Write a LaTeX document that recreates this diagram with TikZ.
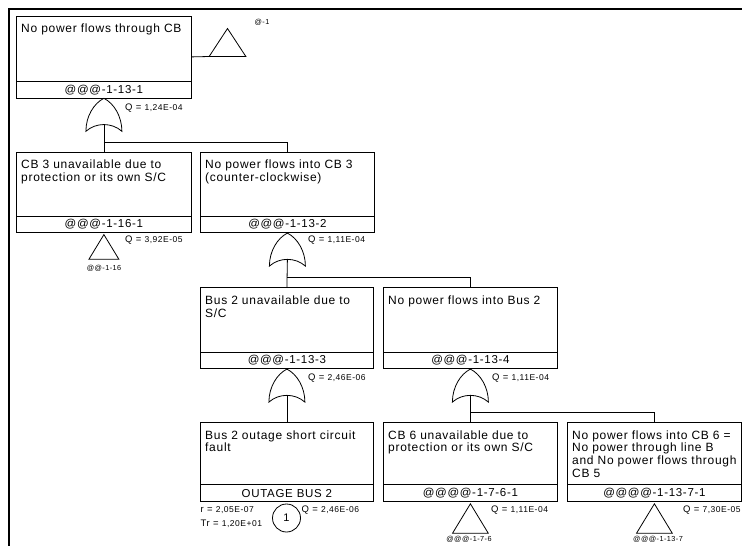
\documentclass[tikz,border=0pt]{standalone}
\usepackage{fontspec}
\setmainfont{Liberation Sans}[LetterSpace=6]
\usetikzlibrary{calc}
\newcommand\qv[2]{{\fontsize{9.5}{10}\selectfont #1 = }#2}
\newcommand\ftbox[7]{%
  \node[evbox, minimum width=#4pt, minimum height=#5pt] (#1) at (#2,#3) {};
  \draw[conn] ([yshift=17pt]#1.south west) -- ([yshift=17pt]#1.south east);
  \node[evtext] (#1-t) at ([xshift=5pt,yshift=-17pt]#1.north west) {#6};
  \node[idtext] (#1-id) at ([yshift=8.5pt]#1.south) {#7};
}
\tikzset{
  evbox/.style={draw, line width=0.8pt, inner sep=0pt, anchor=north west},
  evtext/.style={anchor=base west, inner sep=0pt, align=left, text width=168pt,
    font=\fontsize{12}{12.8}\selectfont},
  idtext/.style={inner sep=0pt, font=\fontsize{11.5}{13}\selectfont},
  qlbl/.style={anchor=base west, inner sep=0pt, font=\fontsize{8.5}{9}\selectfont},
  xlbl/.style={inner sep=0pt, font=\fontsize{7.3}{8}\selectfont},
  conn/.style={line width=0.8pt},
  frame/.style={line width=2pt},
  basic/.style={draw, circle, line width=0.8pt, minimum size=28pt, inner sep=0pt,
    font=\fontsize{11}{12}\selectfont},
  orgate/.pic={\draw[conn] (-18,33) .. controls (-18,18) and (-10,5) .. (0,0)
      .. controls (10,5) and (18,18) .. (18,33)
      .. controls (8,24) and (-8,24) .. cycle;
    \coordinate (-out) at (0,26.25);},
  xfer/.pic={\draw[conn] (0,0) -- (17,28) -- (-17,28) -- cycle;
    \coordinate (-bl) at (-17,28);}
}
\begin{document}
\begin{tikzpicture}[x=1pt,y=-1pt]
\useasboundingbox (0,0) rectangle (742,546);
\draw[frame] (742,9) -- (9,9) -- (9,546);

% events
\ftbox{E1}{16}{15.5}{175}{82}{No power flows through CB}{@@@-1-13-1}
\ftbox{E2}{16}{151.7}{175}{80.6}{CB 3 unavailable due to\\protection or its own S/C}{@@@-1-16-1}
\ftbox{E3}{200}{151.7}{174}{80.6}{No power flows into CB 3\\(counter-clockwise)}{@@@-1-13-2}
\ftbox{E4}{200}{287.3}{173}{81}{Bus 2 unavailable due to\\S/C}{@@@-1-13-3}
\ftbox{E5}{383}{287.3}{174}{81}{No power flows into Bus 2}{@@@-1-13-4}
\ftbox{E6}{200}{422}{173}{79}{Bus 2 outage short circuit\\fault}{OUTAGE BUS 2}
\ftbox{E7}{383}{422}{174}{79}{CB 6 unavailable due to\\protection or its own S/C}{@@@@-1-7-6-1}
\ftbox{E8}{567}{422}{174}{79}{No power flows into CB 6 =\\No power through line B\\and No power flows through\\CB 5}{@@@@-1-13-7-1}

% gates
\pic (g1) at (E1.south) {orgate};
\pic (g2) at (E3.south) {orgate};
\pic (g3) at (E4.south) {orgate};
\pic (g4) at (E5.south) {orgate};

% transfers
\pic[xscale=1.08] (t0) at (227.5,28.5) {xfer};
\pic[scale=0.88] (t1) at ([yshift=-1.5pt]E2.south) {xfer};
\pic[scale=1.05] (t2) at ([yshift=-2pt]E7.south) {xfer};
\pic[scale=1.05] (t3) at ([yshift=-2pt]E8.south) {xfer};

% basic event
\node[basic] (b1) at (286.5,518) {1};

% connectors
\coordinate (r1) at (0,142.5);
\coordinate (r2) at (0,277.5);
\coordinate (r3) at (0,412);
\draw[conn] (E1.east) -- (t0-bl);
\draw[conn] (g1-out) -- (E2.north);
\draw[conn] (g1-out |- r1) -| (E3.north);
\draw[conn] (g2-out) -- (E4.north);
\draw[conn] (g2-out |- r2) -| (E5.north);
\draw[conn] (g3-out) -- (E6.north);
\draw[conn] (g4-out) -- (E7.north);
\draw[conn] (g4-out |- r3) -| (E8.north);

% labels
\node[xlbl] (l0) at (262,22) {@-1};
\node[qlbl] (q1) at (125,110.5) {\qv{Q}{1,24E-04}};
\node[qlbl] (q2) at (125,242.5) {\qv{Q}{3,92E-05}};
\node[xlbl] (l1) at (104,268.5) {@@-1-16};
\node[qlbl] (q3) at (308,242.5) {\qv{Q}{1,11E-04}};
\node[qlbl] (q4) at (308,380.7) {\qv{Q}{2,46E-06}};
\node[qlbl] (q5) at (492,380.7) {\qv{Q}{1,11E-04}};
\node[qlbl] (q6) at (301.5,512.5) {\qv{Q}{2,46E-06}};
\node[qlbl] (rr) at (200.5,512.5) {\qv{r}{2,05E-07}};
\node[qlbl] (tr) at (200.5,526) {\qv{Tr}{1,20E+01}};
\node[qlbl] (q7) at (491,512.5) {\qv{Q}{1,11E-04}};
\node[xlbl] (l2) at (469,539) {@@@-1-7-6};
\node[qlbl] (q8) at (683,512.5) {\qv{Q}{7,30E-05}};
\node[xlbl] (l3) at (658,539) {@@@-1-13-7};
\end{tikzpicture}
\end{document}
